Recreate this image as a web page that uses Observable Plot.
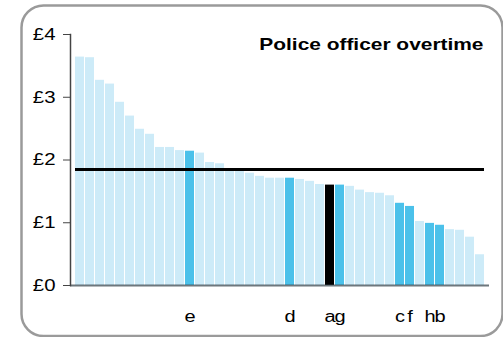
<!DOCTYPE html>
<html>
<head>
<meta charset="utf-8">
<script src="https://cdn.jsdelivr.net/npm/d3@7"></script>
<script src="https://cdn.jsdelivr.net/npm/@observablehq/plot@0.6"></script>
<style>
  html, body { margin: 0; padding: 0; background: #fff; }
  svg { font-family: "Liberation Sans", Arial, sans-serif; }
</style>
</head>
<body>
<div id="chart"></div>
<script>
// Values per force (sorted), £ per officer
const values = [3.64, 3.63, 3.27, 3.21, 2.92, 2.70, 2.49, 2.41, 2.20, 2.20,
                2.15, 2.14, 2.11, 1.96, 1.94, 1.86, 1.82, 1.79, 1.74, 1.71,
                1.71, 1.71, 1.69, 1.66, 1.61, 1.60, 1.60, 1.58, 1.52, 1.48,
                1.47, 1.43, 1.31, 1.26, 1.02, 0.99, 0.96, 0.89, 0.88, 0.77, 0.49];
// Bar labels (empty for unlabelled bars)
const labels = ["", "", "", "", "", "", "", "", "", "",
                "", "e", "", "", "", "", "", "", "", "",
                "", "d", "", "", "", "a", "g", "", "", "",
                "", "", "c", "f", "", "h", "b", "", "", "", ""];
// Highlight kind per bar
const kinds = ["n","n","n","n","n","n","n","n","n","n",
               "n","h","n","n","n","n","n","n","n","n",
               "n","h","n","n","n","k","h","n","n","n",
               "n","n","h","h","n","h","h","n","n","n","n"];
const yTicks = [0, 1, 2, 3, 4];
const average = 1.85;
const title = "Police officer overtime";

const colors = {n: "#cdebf8", h: "#4bc1ea", k: "#000000"};
const data = values.map((v, i) => ({i, v, label: labels[i], kind: kinds[i]}));

const chart = Plot.plot({
  width: 503,
  height: 337,
  marginLeft: 70,
  marginRight: 14,
  marginTop: 34,
  marginBottom: 52,
  style: {fontFamily: "'Liberation Sans', Arial, sans-serif", background: "#fff"},
  x: {type: "band", domain: data.map(d => d.i), paddingInner: 0.12, paddingOuter: 0.02, axis: null},
  y: {domain: [0, 4], axis: null},
  marks: [
    Plot.frame({rx: 22, stroke: "#9a9a9a", strokeWidth: 2.5,
      insetLeft: -49, insetRight: -13, insetTop: -29, insetBottom: -50.5}),
    Plot.barY(data, {x: "i", y: "v", fill: d => colors[d.kind]}),
    Plot.ruleY([average], {stroke: "#000", strokeWidth: 3, insetLeft: 5, insetRight: 5}),
    Plot.ruleY([0], {stroke: "#3c4a50", strokeOpacity: 0.75, strokeWidth: 2}),
    Plot.axisY({ticks: yTicks, tickFormat: d => "£" + d, tickSize: 7, tickPadding: 8,
      fontSize: 17, stroke: "#444", color: "#000", label: null}),
    Plot.frame({anchor: "left", stroke: "#444", strokeWidth: 1.5}),
    Plot.axisX({ticks: data.filter(d => d.label).map(d => d.i),
      tickFormat: i => labels[i], tickSize: 0, tickPadding: 25, fontSize: 16, color: "#000", label: null}),
    Plot.text([title], {frameAnchor: "top-right", dx: -6, dy: 10, lineAnchor: "middle",
      fontSize: 17, fontWeight: "bold", fill: "#000"})
  ]
});
document.getElementById("chart").appendChild(chart);

// Widen glyphs horizontally (the reference text is horizontally stretched)
function stretch(selector, s) {
  chart.querySelectorAll(selector).forEach(t => {
    const parent = t.parentNode;
    const r = t.getBoundingClientRect();
    const anchor = getComputedStyle(t).textAnchor || t.getAttribute("text-anchor") ||
                   (parent.getAttribute && parent.getAttribute("text-anchor")) || "start";
    let sx = r.left;
    if (anchor === "end") sx = r.right;
    else if (anchor === "middle") sx = r.left + r.width / 2;
    const pt = chart.createSVGPoint();
    pt.x = sx; pt.y = r.top;
    const local = pt.matrixTransform(parent.getScreenCTM().inverse());
    const g = document.createElementNS("http://www.w3.org/2000/svg", "g");
    g.setAttribute("transform", `translate(${local.x},0) scale(${s},1) translate(${-local.x},0)`);
    parent.insertBefore(g, t);
    g.appendChild(t);
  });
}
stretch('g[aria-label="y-axis tick label"] text', 1.2);
stretch('g[aria-label="x-axis tick label"] text', 1.25);
stretch('g[aria-label="text"] text', 1.23);
</script>
</body>
</html>
